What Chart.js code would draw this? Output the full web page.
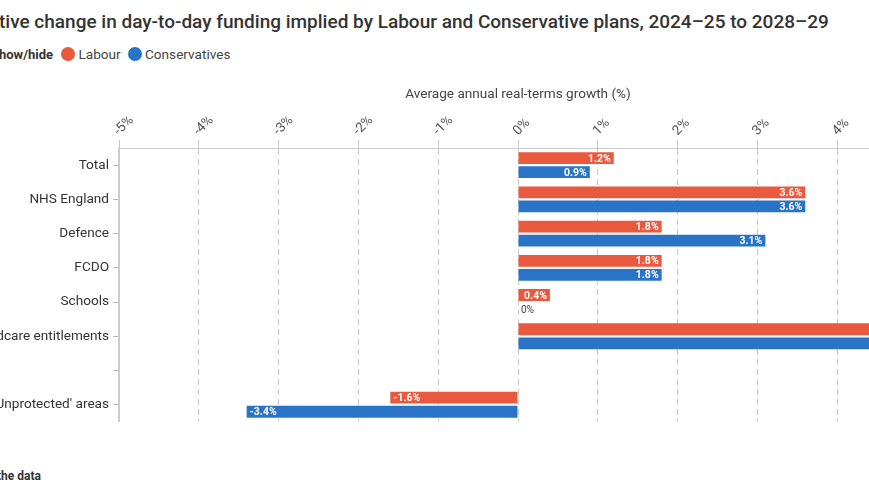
<!DOCTYPE html>
<html lang="en">
<head>
  <meta charset="UTF-8">
  <title>Day-to-day funding growth</title>
  <script src="https://cdn.jsdelivr.net/npm/chart.js@4.4.1/dist/chart.umd.min.js"></script>
  <style>
    html, body { margin: 0; padding: 0; background: #fff; overflow: hidden; }
    body { width: 869px; height: 504px; position: relative; font-family: Roboto, sans-serif; color: #333; }
    .title { position: absolute; left: -1px; top: 10px; font-size: 19px; font-weight: 500; color: #333; white-space: nowrap; }
    .legend { position: absolute; left: -1px; top: 46px; font-size: 13.6px; color: #444; white-space: nowrap; }
    .legend b { color: #333; margin-right: 5px; font-size: 13px; }
    .legend .dot { display: inline-block; width: 14px; height: 14px; border-radius: 50%; vertical-align: -2px; margin-right: 3px; }
    .legend .item { margin-right: 4px; }
    .chart-box { position: absolute; left: -60px; top: 78px; width: 977px; height: 356px; }
    .footer { position: absolute; left: -3px; top: 469px; font-size: 12px; font-weight: 700; color: #333; }
  </style>
</head>
<body>
  <div class="title">tive change in day-to-day funding implied by Labour and Conservative plans, 2024–25 to 2028–29</div>
  <div class="legend">
    <b>how/hide</b>
    <span class="item"><span class="dot" style="background:#e8593d"></span>Labour</span>
    <span class="item"><span class="dot" style="background:#2a74c8"></span>Conservatives</span>
  </div>
  <div class="chart-box"><canvas id="chart"></canvas></div>
  <div class="footer">the data</div>

  <script>
    // categories (one blank row between childcare and unprotected areas)
    const categories = ['Total', 'NHS England', 'Defence', 'FCDO', 'Schools', 'Childcare entitlements', '', "'Unprotected' areas"];
    const labour = [1.2, 3.6, 1.8, 1.8, 0.4, 6.0, null, -1.6];
    const conservatives = [0.9, 3.6, 3.1, 1.8, 0, 6.0, null, -3.4];
    const xTicks = [-5, -4, -3, -2, -1, 0, 1, 2, 3, 4, 5];

    const labourColor = '#e8593d';
    const consColor = '#2a74c8';

    // value labels drawn inside the bar ends
    const barLabels = {
      id: 'barLabels',
      afterDatasetsDraw(chart) {
        const ctx = chart.ctx;
        ctx.save();
        ctx.textBaseline = 'middle';
        const zero = chart.scales.x.getPixelForValue(0);
        chart.data.datasets.forEach((ds, i) => {
          chart.getDatasetMeta(i).data.forEach((bar, j) => {
            const v = ds.data[j];
            if (v === null || v === undefined) return;
            const txt = (v === 0 ? '0' : v.toFixed(1)) + '%';
            if (v === 0) {
              ctx.font = '10px Roboto';
              ctx.fillStyle = '#444';
              ctx.textAlign = 'left';
              ctx.fillText(txt, zero + 3, bar.y + 1);
            } else {
              ctx.font = 'bold 10.5px Roboto';
              ctx.fillStyle = '#fff';
              ctx.textAlign = v > 0 ? 'right' : 'left';
              ctx.fillText(txt, v > 0 ? bar.x - 3 : bar.x + 3, bar.y + 1);
            }
          });
        });
        ctx.restore();
      }
    };

    new Chart(document.getElementById('chart'), {
      type: 'bar',
      data: {
        labels: categories,
        datasets: [
          { label: 'Labour', data: labour, backgroundColor: labourColor },
          { label: 'Conservatives', data: conservatives, backgroundColor: consColor }
        ]
      },
      options: {
        indexAxis: 'y',
        responsive: true,
        maintainAspectRatio: false,
        animation: false,
        categoryPercentage: 0.82,
        barPercentage: 0.84,
        layout: { padding: 0 },
        plugins: { legend: { display: false }, tooltip: { enabled: false } },
        scales: {
          x: {
            position: 'top',
            min: -5,
            max: 5,
            afterBuildTicks(scale) { scale.ticks = xTicks.map(v => ({ value: v })); },
            afterFit(scale) {
              scale.height = 70;
              scale.paddingLeft = 0;
              scale.paddingRight = 0;
            },
            title: {
              display: true,
              text: 'Average annual real-terms growth (%)',
              color: '#444',
              font: { family: 'Roboto', size: 13.6 },
              padding: { top: 8, bottom: 4 }
            },
            ticks: {
              minRotation: 45,
              maxRotation: 45,
              labelOffset: 9,
              padding: 1,
              color: '#555',
              font: { family: 'Roboto', size: 13.5 },
              callback: v => v + '%'
            },
            grid: {
              color: '#c8c8c8',
              tickLength: 8
            },
            border: { display: true, color: '#ccc', width: 1, dash: [6, 4] }
          },
          y: {
            afterFit(scale) { scale.width = 179; },
            ticks: { color: '#333', font: { family: 'Roboto', size: 13.6 }, padding: 4 },
            grid: { display: true, offset: false, drawOnChartArea: false, drawTicks: true, tickLength: 6, color: '#bbb' },
            border: { display: true, color: '#ccc', width: 2 }
          }
        }
      },
      plugins: [barLabels]
    });
  </script>
</body>
</html>
